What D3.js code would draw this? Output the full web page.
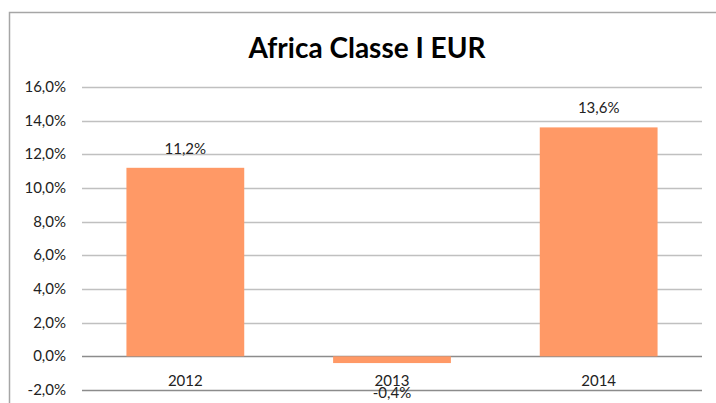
<!DOCTYPE html>
<html><head><meta charset="utf-8">
<script src="https://cdn.jsdelivr.net/npm/d3@7"></script>
<style>body{margin:0;background:#fff}svg{display:block}text{font-family:Lato,"Open Sans",sans-serif}</style>
</head><body>
<script>
const categories = ["2012", "2013", "2014"];
const values = [11.2, -0.4, 13.6];
const valueLabels = ["11,2%", "-0,4%", "13,6%"];
const yTicks = [-2, 0, 2, 4, 6, 8, 10, 12, 14, 16];
const title = "Africa Classe I EUR";

const W = 716, H = 403;
const svg = d3.select("body").append("svg").attr("width", W).attr("height", H);
svg.append("rect").attr("width", W).attr("height", H).attr("fill", "#fff");
// chart border
svg.append("path").attr("d", "M9.5,403 L9.5,12.5 L716,12.5").attr("fill", "none").attr("stroke", "#a6a6a6").attr("stroke-width", 1.5);

const x = d3.scaleBand().domain(categories).range([82, 702]).paddingInner(0.43).paddingOuter(0.215);
const y = d3.scaleLinear().domain([-2, 16]).range([390, 87]);
const fmt = d => d.toFixed(1).replace(".", ",") + "%";

svg.append("g").selectAll("line").data(yTicks).join("line")
  .attr("x1", 82).attr("x2", 702)
  .attr("y1", d => Math.round(y(d)) + 0.5).attr("y2", d => Math.round(y(d)) + 0.5)
  .attr("stroke", d => d <= 0 ? "#8c8c8c" : "#c0c0c0").attr("stroke-width", 1.3);

svg.append("g").selectAll("text").data(yTicks).join("text")
  .attr("x", 66).attr("y", d => y(d) + 5).attr("text-anchor", "end")
  .attr("font-size", 15).attr("fill", "#222").text(fmt);

svg.append("g").selectAll("rect").data(values).join("rect")
  .attr("x", (d, i) => x(categories[i])).attr("width", x.bandwidth())
  .attr("y", d => y(Math.max(0, d))).attr("height", d => Math.abs(y(d) - y(0)))
  .attr("fill", "#FF9966");

svg.append("g").selectAll("text").data(categories).join("text")
  .attr("x", d => x(d) + x.bandwidth() / 2).attr("y", 386).attr("text-anchor", "middle")
  .attr("font-size", 15).attr("fill", "#222").text(d => d);

svg.append("g").selectAll("text").data(values).join("text")
  .attr("x", (d, i) => x(categories[i]) + x.bandwidth() / 2)
  .attr("y", d => d >= 0 ? y(d) - 14 : y(d) + 35).attr("text-anchor", "middle")
  .attr("font-size", 15).attr("fill", "#222").text((d, i) => valueLabels[i]);

svg.append("text").attr("x", 367).attr("y", 58).attr("text-anchor", "middle")
  .attr("font-size", 28).attr("font-weight", "bold").attr("fill", "#000").text(title);
</script>
</body></html>
